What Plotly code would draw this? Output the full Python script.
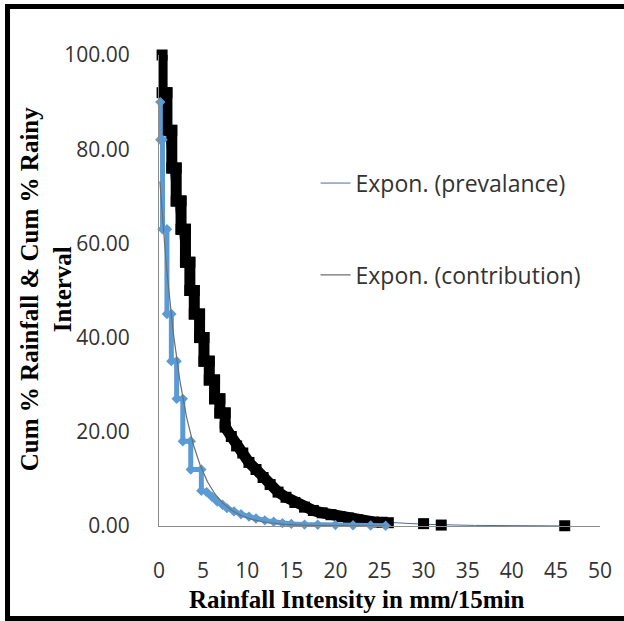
import plotly.graph_objects as go
import numpy as np

# ---- data ----
# Cumulative % rainy intervals (prevalence) -- black squares
prev_x = [0.35, 0.35, 0.9, 0.9, 1.45, 1.45, 1.95, 1.95, 2.5, 2.5, 3.0, 3.0, 3.5, 3.5,
          4.0, 4.0, 4.6, 4.6, 5.1, 5.1, 5.7, 5.7, 6.3, 6.3, 6.9, 6.9, 7.5, 7.5,
          8.2, 8.8, 9.5, 10.2, 11.0, 11.8, 12.6, 13.5, 14.4, 15.4, 16.5, 17.5,
          18.5, 19.5, 20.5, 21.5, 22.5, 23.5, 24.3, None, 25.3, None, 26.0, None,
          30.0, None, 32.0, None, 46.0]
prev_y = [100, 92, 92, 84, 84, 76, 76, 69, 69, 63, 63, 56, 56, 50,
          50, 45, 45, 40, 40, 35, 35, 31, 31, 27, 27, 24, 24, 21,
          19, 17, 15.5, 13.5, 12.0, 10.3, 8.8, 7.2, 6.1, 5.0, 4.0, 3.3,
          2.8, 2.4, 2.0, 1.7, 1.3, 0.95, 0.85, None, 0.8, None, 0.7, None,
          0.5, None, 0.2, None, 0.05]

# Cumulative % rainfall (contribution) -- blue
contr_x = [0.15, 0.15, 0.4, 0.4, 0.9, 0.9, 1.4, 1.4, 2.0, 2.0, 2.7, 2.7, 3.6, 3.6,
           4.8, 4.8, 5.4, 6.0, 6.6, 7.2, 7.7, 8.5, 9.3, 10.2, 11.0, 12.0, 13.0,
           14.0, 15.0, 16.5, 18.0, 20.0, 22.0, 24.0, 25.7]
contr_y = [90, 82, 82, 63, 63, 45, 45, 35, 35, 27, 27, 18, 18, 12,
           12, 7.5, 7.2, 6.2, 5.2, 4.5, 3.8, 3.1, 2.5, 2.0, 1.6, 1.2, 0.9,
           0.6, 0.45, 0.3, 0.25, 0.2, 0.15, 0.1, 0.05]

# Exponential trendline coefficients (y = a * exp(-b x))
prev_a, prev_b, prev_range = 95.0, 0.185, (0.2, 46.0)
contr_a, contr_b, contr_range = 76.0, 0.38, (0.1, 25.7)

x_ticks = [0, 5, 10, 15, 20, 25, 30, 35, 40, 45, 50]
y_ticks = [0, 20, 40, 60, 80, 100]

# ---- figure ----
fig = go.Figure()

tx = np.linspace(prev_range[0], prev_range[1], 300)
fig.add_trace(go.Scatter(
    x=tx, y=prev_a * np.exp(-prev_b * tx), mode='lines',
    name='Expon. (prevalance)', line=dict(color='#4F6B96', width=1),
    legend='legend'))

fig.add_trace(go.Scatter(
    x=prev_x, y=prev_y, mode='lines+markers', name='prevalance',
    line=dict(color='#000000', width=11),
    marker=dict(symbol='square', size=11, color='#000000'),
    connectgaps=False, showlegend=False, cliponaxis=False))

fig.add_trace(go.Scatter(
    x=contr_x, y=contr_y, mode='lines+markers', name='contribution',
    line=dict(color='#5B9BD5', width=5),
    marker=dict(symbol='diamond', size=8, color='#5B9BD5'),
    showlegend=False, cliponaxis=False))

tc = np.linspace(contr_range[0], contr_range[1], 300)
fig.add_trace(go.Scatter(
    x=tc, y=contr_a * np.exp(-contr_b * tc), mode='lines',
    name='Expon. (contribution)', line=dict(color='#6E6E6E', width=1.2),
    legend='legend2'))

tick_font = dict(family='Open Sans', size=21, color='#333333')
legend_font = dict(family='Open Sans', size=23, color='#333333')

fig.update_layout(
    width=624, height=621,
    margin=dict(l=159, r=24, t=55, b=95),
    paper_bgcolor='white', plot_bgcolor='white',
    xaxis=dict(range=[0, 50], tickvals=x_ticks, ticktext=[str(v) for v in x_ticks],
               showline=True, linecolor='#8C8C8C', linewidth=1.2, showgrid=False,
               zeroline=False, ticks='', tickfont=tick_font, ticklabelstandoff=26),
    yaxis=dict(range=[0, 100], tickvals=y_ticks, tickformat='.2f',
               showline=True, linecolor='#8C8C8C', linewidth=1.2, showgrid=False,
               zeroline=False, ticks='', tickfont=tick_font, ticklabelstandoff=24),
    legend=dict(x=0.355, y=0.728, xanchor='left', yanchor='middle',
                font=legend_font, bgcolor='rgba(0,0,0,0)'),
    legend2=dict(x=0.355, y=0.533, xanchor='left', yanchor='middle',
                 font=legend_font, bgcolor='rgba(0,0,0,0)'),
    annotations=[
        dict(text='<b>Rainfall Intensity in mm/15min</b>', xref='paper', yref='paper',
             x=0.449, y=-0.157, xanchor='center', yanchor='middle', showarrow=False,
             font=dict(family='Liberation Serif', size=25, color='#000000')),
        dict(text='<b>Cum % Rainfall & Cum % Rainy<br>Interval</b>', xref='paper', yref='paper',
             x=-0.256, y=0.503, xanchor='center', yanchor='middle', showarrow=False,
             textangle=-90, align='center',
             font=dict(family='Liberation Serif', size=25, color='#000000')),
    ],
    shapes=[
        dict(type='rect', xref='paper', yref='paper', x0=-0.3435, x1=1.1,
             y0=-0.1964, y1=1.103, line=dict(color='#000000', width=5)),
    ],
)

fig.write_html('out.html')
